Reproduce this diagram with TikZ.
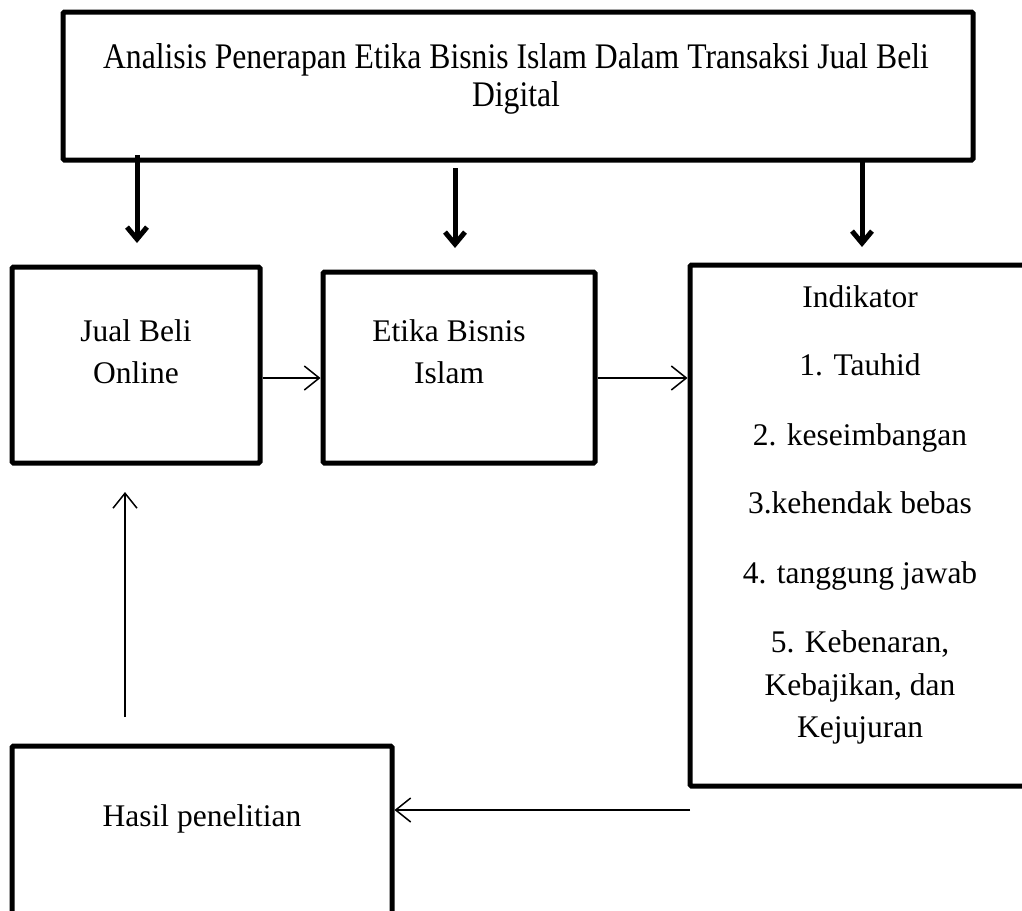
\documentclass[tikz,border=0pt]{standalone}
\usepackage{fontspec}
\setmainfont{Liberation Serif}
\usetikzlibrary{arrows.meta}
\begin{document}
\begin{tikzpicture}[x=1pt,y=-1pt,
  boxstyle/.style={draw=black,line width=5pt,rounded corners=1.5pt,rectangle,inner sep=0pt},
  txt/.style={anchor=base,inner sep=0pt,font=\fontsize{31.5}{42}\selectfont},
  toptxt/.style={anchor=base,inner sep=0pt,font=\fontsize{36}{34}\selectfont},
  thickarrow/.style={line width=5pt,-{Straight Barb[length=12pt,width=20pt]}},
  thinarrow/.style={line width=1.5pt,-{Straight Barb[length=15pt,width=24pt]}}]
\useasboundingbox (0,0) rectangle (1022,910);
% boxes
\node[boxstyle,minimum width=910pt,minimum height=148pt] (top) at (518,86) {};
\node[boxstyle,minimum width=248pt,minimum height=196pt] (jual) at (136,365) {};
\node[boxstyle,minimum width=272pt,minimum height=191pt] (etika) at (459,367.5) {};
\node[boxstyle,minimum width=340pt,minimum height=521pt] (ind) at (860,525.5) {};
\node[boxstyle,minimum width=380pt,minimum height=200pt] (hasil) at (202,846) {};
% texts
\node[toptxt] (t1) at (516,68) {\scalebox{0.88}[1]{Analisis Penerapan Etika Bisnis Islam Dalam Transaksi Jual Beli}};
\node[toptxt] (t2) at (516,106) {\scalebox{0.88}[1]{Digital}};
\node[txt] (j1) at (136,341) {Jual Beli};
\node[txt] (j2) at (136,383) {Online};
\node[txt] (e1) at (449,341) {Etika Bisnis};
\node[txt] (e2) at (449,383) {Islam};
\node[txt] (i0) at (860,307) {Indikator};
\node[txt] (i1) at (860,375) {1. Tauhid};
\node[txt] (i2) at (860,445) {2. keseimbangan};
\node[txt] (i3) at (860,513) {3.kehendak bebas};
\node[txt] (i4) at (860,583) {4. tanggung jawab};
\node[txt] (i5a) at (860,652) {5. Kebenaran,};
\node[txt] (i5b) at (860,695) {Kebajikan, dan};
\node[txt] (i5c) at (860,737) {Kejujuran};
\node[txt] (h1) at (202,826) {Hasil penelitian};
% free ends
\coordinate (d1s) at (137,155);
\coordinate (d1e) at (137,243);
\coordinate (d2s) at (455,168);
\coordinate (d2e) at (455,248);
\coordinate (d3s) at (862,160);
\coordinate (d3e) at (862,247);
\coordinate (lfs) at (690,810);
\coordinate (ups) at (125,717);
\coordinate (upe) at (125,492);
\coordinate (row) at (0,378);
% thick arrows
\draw[thickarrow] (d1s) -- (d1e);
\draw[thickarrow] (d2s) -- (d2e);
\draw[thickarrow] (d3s) -- (d3e);
% thin arrows
\draw[thinarrow] (jual.east |- row) -- (etika.west |- row);
\draw[thinarrow] (etika.east |- row) -- (ind.west |- row);
\draw[thinarrow] (lfs) -- (hasil.east |- lfs);
\draw[thinarrow] (ups) -- (upe);
\end{tikzpicture}
\end{document}
